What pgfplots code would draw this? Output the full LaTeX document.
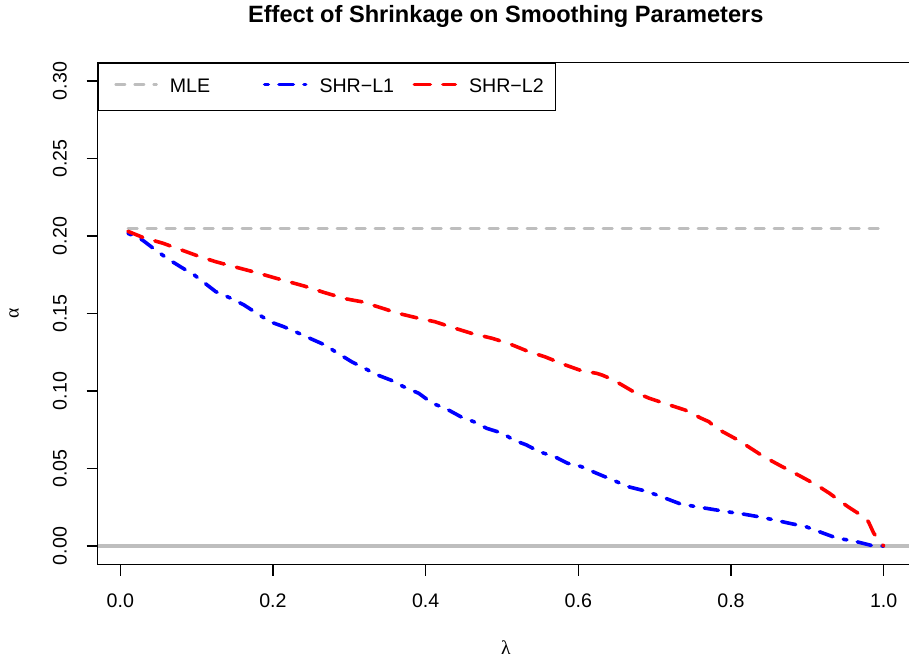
\documentclass[border=0pt]{standalone}
\usepackage{fontspec}
\setmainfont{Liberation Sans}
\newfontfamily\symfont{Liberation Serif}
\usepackage{pgfplots}
\pgfplotsset{compat=1.18}
\definecolor{rgray}{HTML}{BEBEBE}
\begin{document}
\begin{tikzpicture}
\useasboundingbox (0,0) rectangle (454.5pt,331pt);
\begin{axis}[
  at={(48.85pt,48.7pt)}, anchor=south west,
  scale only axis, width=408.1pt, height=251.1pt,
  xmin=-0.0296, xmax=1.0396, ymin=-0.012, ymax=0.312,
  axis line style={line width=0.6pt},
  every tick/.style={black, line width=0.6pt},
  tick align=outside, major tick length=5.6pt,
  xtick={0,0.2,0.4,0.6,0.8,1.0}, ytick={0,0.05,0.1,0.15,0.2,0.25,0.3},
  xtick pos=bottom, ytick pos=left,
  /pgf/number format/assume math mode=true,
  xticklabel style={/pgf/number format/.cd, fixed, fixed zerofill, precision=1, /tikz/.cd, anchor=base, yshift=-16pt},
  yticklabel style={/pgf/number format/.cd, fixed, fixed zerofill, precision=2, /tikz/.cd, rotate=90, anchor=base, yshift=10pt},
  tick label style={font=\fontsize{9.8pt}{11pt}\selectfont},
  title={\fontsize{11.8pt}{14pt}\selectfont\bfseries Effect of Shrinkage on Smoothing Parameters},
  title style={at={(axis description cs:0.5,1)}, anchor=base, yshift=14.1pt},
  xlabel={\fontsize{9.8pt}{11pt}\selectfont{\symfont λ}},
  xlabel style={at={(axis description cs:0.5,-0.166)}, anchor=center},
  ylabel={\fontsize{9.8pt}{11pt}\selectfont{\symfont α}},
  ylabel style={at={(axis description cs:-0.1025,0.5)}, anchor=center},
  legend columns=3,
  legend style={at={(axis description cs:0,1)}, anchor=north west, draw=black, line width=0.6pt,
    inner xsep=8pt, inner ysep=7.75pt,
    /tikz/every odd column/.append style={column sep=6pt},
    /tikz/every even column/.append style={column sep=7.5pt},
    font=\fontsize{9.8pt}{11pt}\selectfont, nodes={inner sep=0pt, anchor=base}},
  legend image code/.code={\draw[#1] (0pt,3.8pt) -- (20.5pt,3.8pt);},
]
\addplot[rgray, line width=2pt, forget plot] coordinates {(-0.0296,0) (1.0396,0)};
\addplot[rgray, line width=1.3pt, line cap=round, dash pattern=on 4.75pt off 4.75pt] coordinates {(0.01,0.205) (1.0,0.205)};
\addlegendentry{\makebox[39pt][l]{MLE}}
\addplot[blue, line width=1.8pt, line cap=round, line join=round, dash pattern=on 1.8pt off 5.35pt on 7.15pt off 5.35pt] coordinates {
(0.01,0.2017) (0.029,0.1974) (0.046,0.1910) (0.063,0.1850) (0.080,0.1798) (0.097,0.1748)
(0.125,0.1641) (0.145,0.1598) (0.162,0.1555) (0.179,0.1501) (0.196,0.1447) (0.214,0.1415)
(0.234,0.1372) (0.251,0.1334) (0.268,0.1297) (0.285,0.1243) (0.303,0.1189) (0.320,0.1146)
(0.337,0.1103) (0.354,0.1071) (0.371,0.1028) (0.391,0.0985) (0.409,0.0920) (0.426,0.0888)
(0.446,0.0834) (0.463,0.0802) (0.480,0.0759) (0.501,0.0727) (0.515,0.0684) (0.532,0.0652)
(0.549,0.0608) (0.569,0.0576) (0.586,0.0534) (0.604,0.0512) (0.624,0.0469) (0.645,0.0426)
(0.665,0.0383) (0.686,0.0357) (0.703,0.0329) (0.720,0.0297) (0.734,0.0271) (0.754,0.0254)
(0.775,0.0237) (0.795,0.0221) (0.816,0.0206) (0.836,0.0189) (0.857,0.0168) (0.877,0.0146)
(0.898,0.0125) (0.918,0.0088) (0.939,0.0050) (0.959,0.0034) (0.970,0.0021) (0.987,0.0000)
(1.000,0.0000)};
\addlegendentry{\makebox[39pt][l]{SHR−L1}}
\addplot[red, line width=1.8pt, line cap=round, line join=round, dash pattern=on 8pt off 6.3pt] coordinates {
(0.01,0.2030) (0.030,0.1990) (0.056,0.1953) (0.080,0.1910) (0.104,0.1867) (0.125,0.1834)
(0.152,0.1798) (0.179,0.1763) (0.200,0.1733) (0.241,0.1677) (0.268,0.1634) (0.296,0.1594)
(0.316,0.1576) (0.344,0.1533) (0.364,0.1501) (0.391,0.1469) (0.412,0.1447) (0.439,0.1404)
(0.460,0.1372) (0.487,0.1340) (0.508,0.1308) (0.535,0.1254) (0.556,0.1221) (0.583,0.1168)
(0.604,0.1131) (0.624,0.1114) (0.631,0.1103) (0.645,0.1074) (0.672,0.0996) (0.693,0.0953)
(0.713,0.0920) (0.740,0.0877) (0.761,0.0824) (0.771,0.0802) (0.781,0.0759) (0.809,0.0684)
(0.826,0.0630) (0.843,0.0576) (0.867,0.0512) (0.888,0.0458) (0.912,0.0394) (0.929,0.0340)
(0.953,0.0254) (0.970,0.0200) (0.980,0.0157) (0.987,0.0082) (1.000,0.0000)};
\addlegendentry{\makebox[35pt][l]{SHR−L2}}
\end{axis}
\end{tikzpicture}
\end{document}
